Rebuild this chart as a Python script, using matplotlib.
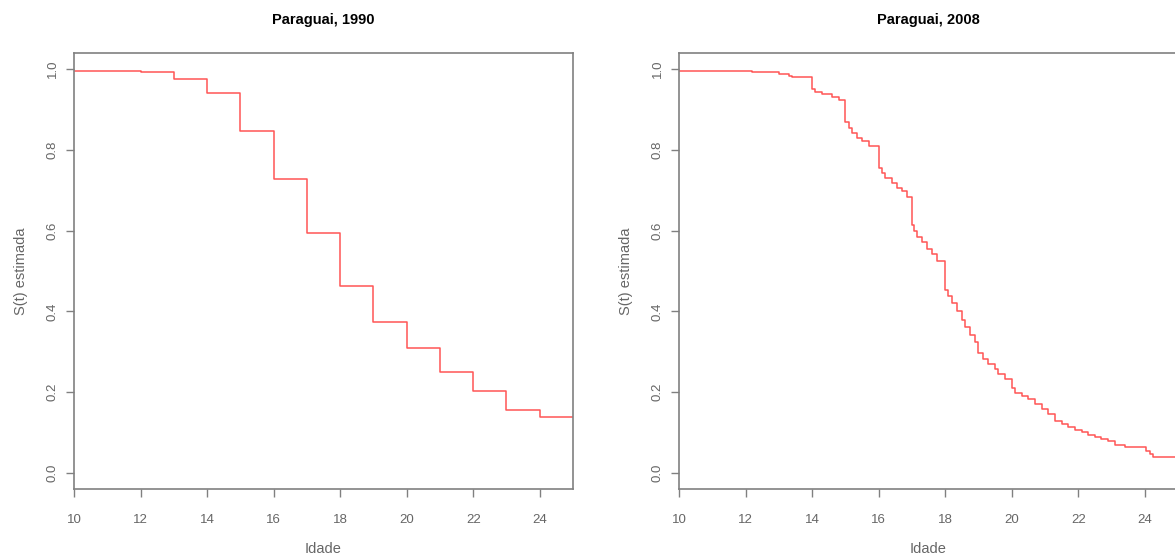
import matplotlib
matplotlib.use("Agg")
import matplotlib.pyplot as plt

plt.rcParams['font.family'] = ['Liberation Sans', 'DejaVu Sans']

# Kaplan-Meier estimates (step function, "post")
age_1990 = [10, 12, 13, 14, 15, 16, 17, 18, 19, 20, 21, 22, 23, 24, 25]
surv_1990 = [0.996, 0.992, 0.975, 0.941, 0.848, 0.727, 0.593, 0.463, 0.373,
             0.309, 0.249, 0.202, 0.155, 0.139, 0.139]

age_2008 = [10, 12.2, 13.0, 13.3, 13.4, 14.0, 14.1, 14.3, 14.6, 14.8,
            15.0, 15.1, 15.2, 15.35, 15.5, 15.7, 16.0, 16.1, 16.2, 16.4,
            16.55, 16.7, 16.85, 17.0, 17.05, 17.15, 17.3, 17.45, 17.6, 17.75,
            18.0, 18.1, 18.2, 18.35, 18.5, 18.6, 18.75, 18.9, 19.0, 19.15,
            19.3, 19.5, 19.6, 19.8, 20.0, 20.1, 20.3, 20.5, 20.7, 20.9,
            21.1, 21.3, 21.5, 21.7, 21.9, 22.1, 22.3, 22.5, 22.7, 22.9,
            23.1, 23.4, 24.05, 24.15, 24.25, 25]
surv_2008 = [0.996, 0.992, 0.988, 0.983, 0.981, 0.951, 0.943, 0.939, 0.932, 0.924,
             0.868, 0.855, 0.843, 0.830, 0.822, 0.809, 0.755, 0.742, 0.730, 0.717,
             0.705, 0.697, 0.684, 0.613, 0.600, 0.584, 0.571, 0.554, 0.542, 0.525,
             0.454, 0.437, 0.421, 0.400, 0.379, 0.362, 0.341, 0.324, 0.297, 0.283,
             0.270, 0.258, 0.245, 0.232, 0.210, 0.199, 0.191, 0.182, 0.170, 0.157,
             0.145, 0.128, 0.120, 0.113, 0.107, 0.101, 0.094, 0.088, 0.084, 0.078,
             0.069, 0.065, 0.053, 0.046, 0.040, 0.040]

panels = [("Paraguai, 1990", age_1990, surv_1990),
          ("Paraguai, 2008", age_2008, surv_2008)]

grey = '#808080'
txt = '#666666'

fig = plt.figure(figsize=(11.75, 5.59), dpi=100)
lefts = [74 / 1175, 679 / 1175]
for left, (title, t, s) in zip(lefts, panels):
    ax = fig.add_axes([left, 1 - 489 / 559, 499 / 1175, 436 / 559])
    ax.step(t, s, where='post', color='#ff5555', lw=1.1)
    ax.set_xlim(10, 25)
    ax.set_ylim(-0.04, 1.04)
    ax.set_xticks(range(10, 25, 2))
    ax.set_yticks([0.0, 0.2, 0.4, 0.6, 0.8, 1.0])
    ax.set_yticklabels(['0.0', '0.2', '0.4', '0.6', '0.8', '1.0'], rotation=90, va='center')
    for sp in ax.spines.values():
        sp.set_color(grey)
        sp.set_linewidth(1.2)
    ax.tick_params(colors=grey, labelcolor=txt, labelsize=9.5, length=6, width=1)
    ax.tick_params(axis='x', pad=12)
    ax.tick_params(axis='y', pad=5)
    ax.set_title(title, fontsize=10.5, fontweight='bold', pad=21)
    ax.set_xlabel('Idade', fontsize=10.5, color=txt, va='center')
    ax.set_ylabel('S(t) estimada', fontsize=10.5, color=txt, va='center')
    ax.xaxis.set_label_coords(0.5, -0.138)
    ax.yaxis.set_label_coords(-0.106, 0.5)

fig.savefig('out.png', dpi=100, facecolor='white')
